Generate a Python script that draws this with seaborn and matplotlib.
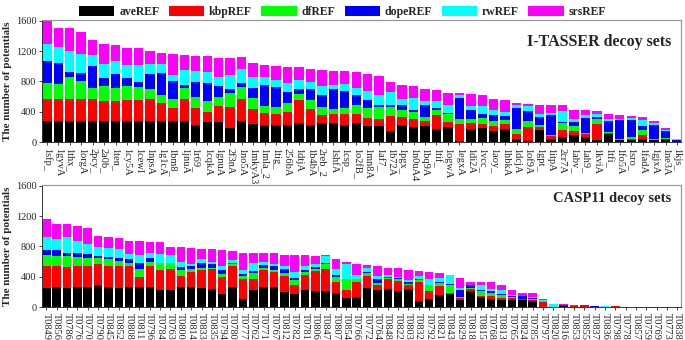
import matplotlib
matplotlib.use("Agg")
import matplotlib.pyplot as plt
from matplotlib.patches import Patch
import seaborn as sns

# I-TASSER decoy sets: stack tops (cumulative)
it_names = ["1sfp_", "1gyvA", "1thx_", "1orgA", "2pcy_", "2a0b_", "1ten_", "1cy5A", "1cewI", "1npsA",
            "1g1cA", "1bm8_", "1jnuA", "1r69_", "1cqkA", "1gnuA", "2f3nA", "1no5A", "1mkyA3", "1mla_2",
            "1tig_", "256bA", "1dtjA", "1b4bA", "2reb_2", "1shfA", "1csp_", "1o2fB_", "1mn8A", "1af7_",
            "1b72A", "1pgx_", "1n0uA4", "1bq9A", "1tif_", "1ogwA", "1egxA", "1di2A", "1vcc_", "1aoy_",
            "1hbkA", "1dcjA", "1of9A", "1gpt_", "1itpA", "2cr7A", "1abv_", "1ah9_", "1kviA", "1tfi_",
            "1fo5A", "1sro_", "1fadA", "1gjxA", "1ne3A", "1kjs_"]
it_ave = [280, 280, 280, 280, 280, 280, 280, 280, 280, 280, 275, 275, 275, 225, 270, 270, 180,
          283, 243, 230, 230, 230, 256, 230, 252, 256, 230, 252, 208, 208, 141, 221, 199, 208, 177, 199, 9,
          177, 186, 141, 168, 35, 9, 155, 44, 66, 88, 66, 22, 110, 22, 27, 44, 22, 35, 9]
it_kbp = [575, 575, 575, 575, 575, 545, 545, 555, 555, 570, 510, 450, 565, 450, 400, 470, 460,
          575, 440, 385, 367, 398, 552, 442, 362, 375, 375, 367, 318, 310, 345, 332, 310, 274, 354, 265, 243,
          252, 243, 208, 243, 110, 199, 199, 80, 155, 146, 110, 243, 124, 31, 44, 97, 31, 44, 9]
it_df = [785, 765, 860, 810, 715, 745, 720, 745, 730, 700, 615, 575, 710, 600, 540, 595, 650,
         730, 585, 477, 465, 520, 632, 552, 464, 442, 450, 486, 450, 464, 464, 420, 398, 332, 429, 375, 300,
         310, 323, 274, 287, 177, 274, 221, 97, 256, 208, 124, 300, 133, 44, 66, 155, 44, 57, 9]
it_dope = [1075, 1050, 920, 910, 1005, 840, 895, 845, 795, 895, 910, 800, 760, 790, 785, 735, 695,
           775, 715, 760, 730, 655, 698, 698, 619, 698, 672, 619, 552, 486, 495, 486, 420, 486, 450, 389, 583,
           420, 375, 362, 345, 450, 411, 332, 354, 265, 265, 318, 327, 274, 287, 287, 212, 230, 141, 31]
it_rw = [1295, 1260, 1200, 1160, 1150, 1035, 1065, 1015, 1015, 1035, 1025, 890, 950, 940, 930, 865, 880,
         960, 860, 860, 818, 780, 818, 795, 738, 760, 773, 716, 672, 619, 655, 575, 583, 540, 540, 495, 627,
         477, 477, 420, 398, 495, 477, 367, 385, 407, 310, 362, 375, 310, 310, 318, 287, 256, 155, 40]
it_srs = [1595, 1510, 1500, 1450, 1350, 1290, 1280, 1245, 1240, 1205, 1180, 1165, 1155, 1140, 1135, 1110, 1110,
          1120, 1050, 1015, 1003, 985, 985, 960, 950, 937, 937, 920, 893, 875, 796, 751, 743, 707, 681, 654, 650,
          641, 619, 575, 557, 521, 504, 486, 486, 486, 429, 420, 407, 375, 354, 345, 332, 274, 186, 44]

# CASP11 decoy sets
cs_names = ["T0849", "T0856", "T0786", "T0776", "T0770", "T0790", "T0845", "T0852", "T0808", "T0811",
            "T0796", "T0784", "T0763", "T0800", "T0814", "T0833", "T0835", "T0794", "T0780", "T0777",
            "T0762", "T0771", "T0767", "T0812", "T0782", "T0781", "T0806", "T0847", "T0807", "T0854",
            "T0766", "T0772", "T0764", "T0848", "T0822", "T0803", "T0832", "T0792", "T0821", "T0843",
            "T0829", "T0818", "T0815", "T0768", "T0813", "T0765", "T0824", "T0785", "T0797", "T0820",
            "T0816", "T0853", "T0855", "T0837", "T0836", "T0798", "T0778", "T0857", "T0759", "T0769",
            "T0773", "T0838"]
cs_ave = [253, 262, 253, 262, 262, 284, 262, 253, 262, 262, 262, 218, 222, 262, 262, 253, 244, 178, 262,
          107, 231, 262, 262, 200, 178, 218, 209, 209, 182, 120, 138, 249, 226, 244, 209, 240, 84, 111, 164, 178, 98,
          209, 133, 111, 98, 93, 98, 84, 2, 0, 15, 5, 3, 0, 0, 0, 0, 0, 0, 0, 0, 0]
cs_kbp = [542, 542, 528, 542, 542, 573, 542, 542, 542, 400, 542, 488, 497, 408, 466, 484, 497, 395, 542,
          373, 364, 484, 462, 408, 297, 422, 475, 497, 329, 218, 329, 404, 284, 364, 342, 289, 333, 209, 275, 186, 120,
          244, 151, 142, 120, 120, 102, 98, 65, 0, 18, 10, 22, 5, 3, 12, 0, 0, 0, 0, 0, 0]
cs_df = [688, 675, 675, 662, 644, 653, 630, 608, 577, 497, 599, 577, 577, 493, 497, 519, 519, 440, 564,
         404, 453, 519, 484, 448, 351, 466, 497, 573, 395, 364, 364, 448, 311, 377, 364, 306, 355, 284, 311, 297, 133,
         253, 209, 186, 164, 133, 107, 102, 82, 0, 20, 10, 22, 6, 4, 12, 0, 0, 0, 0, 0, 0]
cs_dope = [750, 750, 719, 719, 697, 675, 662, 653, 630, 586, 644, 586, 586, 533, 542, 586, 564, 484, 577,
           431, 475, 550, 542, 497, 377, 488, 528, 577, 422, 364, 373, 462, 364, 395, 377, 333, 364, 297, 324, 306, 218,
           289, 218, 209, 173, 151, 142, 120, 84, 0, 22, 12, 23, 7, 5, 13, 0, 0, 0, 0, 0, 0]
cs_rw = [919, 897, 928, 866, 830, 786, 777, 764, 697, 684, 710, 697, 684, 595, 564, 630, 595, 542, 622,
         484, 586, 599, 564, 542, 466, 542, 573, 675, 497, 564, 422, 519, 408, 422, 400, 355, 408, 373, 377, 422, 249,
         297, 289, 244, 231, 164, 151, 129, 95, 42, 25, 14, 24, 9, 7, 14, 0, 0, 0, 0, 0, 0]
cs_srs = [1163, 1097, 1097, 1066, 1043, 932, 919, 910, 866, 866, 852, 852, 795, 795, 777, 764, 764, 750, 741,
          719, 719, 715, 706, 684, 684, 684, 675, 684, 630, 595, 564, 559, 546, 519, 511, 484, 475, 462, 448, 422, 386,
          329, 329, 329, 289, 218, 186, 186, 105, 44, 40, 25, 26, 20, 18, 15, 5, 3, 2, 2, 2, 0]

series_names = ["aveREF", "kbpREF", "dfREF", "dopeREF", "rwREF", "srsREF"]
colors = ["#000000", "#ff0000", "#00ff00", "#0000ff", "#00ffff", "#ff00ff"]
yticks = [0, 400, 800, 1200, 1600]

sns.set_style("ticks")
plt.rcParams['font.family'] = ['Liberation Serif', 'DejaVu Serif']


def draw_panel(ax, names, stacks, title, title_y, title_size):
    # tallest (cumulative) first, so lower layers paint over it
    for vals, col in reversed(list(zip(stacks, colors))):
        sns.barplot(x=names, y=vals, order=names, color=col, saturation=1,
                    width=0.82, linewidth=0, ax=ax)
    ax.set_xlim(-0.42, len(names) - 0.65)
    ax.set_ylim(0, 1610)
    ax.set_yticks(yticks)
    ax.set_yticklabels([str(t) for t in yticks], fontsize=7.5)
    ax.set_xticks(range(len(names)))
    ax.set_xticklabels(names, rotation=270, fontsize=7.5)
    ax.tick_params(axis='both', length=2.5, width=0.6, pad=1.5)
    ax.set_xlabel("")
    ax.set_ylabel("The number of potentials", fontsize=8, fontweight='bold', labelpad=3)
    for s in ["left", "bottom"]:
        ax.spines[s].set_color("#333333")
        ax.spines[s].set_linewidth(0.7)
    for s in ["top", "right"]:
        ax.spines[s].set_visible(True)
        ax.spines[s].set_color("#999999")
        ax.spines[s].set_linewidth(0.9)
    ax.text(0.985, title_y, title, transform=ax.transAxes, ha='right', va='center',
            fontsize=title_size, fontweight='bold')


fig = plt.figure(figsize=(6.85, 3.4), dpi=100)
ax1 = fig.add_axes([0.0613, 0.582, 0.933, 0.359])
ax2 = fig.add_axes([0.0613, 0.097, 0.933, 0.359])

draw_panel(ax1, it_names, [it_ave, it_kbp, it_df, it_dope, it_rw, it_srs],
           "I-TASSER decoy sets", 0.82, 11.5)
draw_panel(ax2, cs_names, [cs_ave, cs_kbp, cs_df, cs_dope, cs_rw, cs_srs],
           "CASP11 decoy sets", 0.89, 10.5)

handles = [Patch(facecolor=c, edgecolor='none', label=n) for n, c in zip(series_names, colors)]
leg = fig.legend(handles=handles, loc='upper center', bbox_to_anchor=(0.5, 1.015), ncol=6,
                 frameon=False, handlelength=3.0, handleheight=1.0, columnspacing=0.8,
                 handletextpad=0.4, prop={'size': 8.5, 'weight': 'bold'})

fig.savefig("out.png", dpi=100)
